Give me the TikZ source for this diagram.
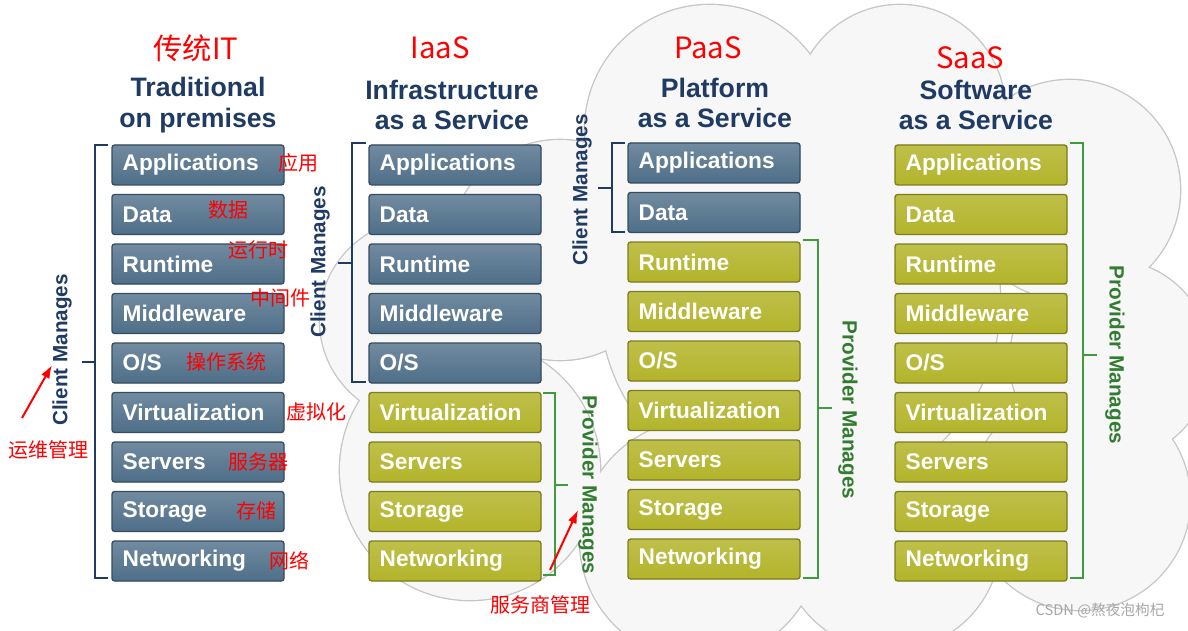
\documentclass[tikz,border=0pt]{standalone}
\usepackage{fontspec}
\usetikzlibrary{arrows.meta}
\setmainfont{Liberation Sans}
\newfontfamily\cjk{Noto Sans CJK SC}
\begin{document}
\begin{tikzpicture}[x=0.75pt,y=-0.75pt,
 box/.style={draw=#1!70!black,line width=1pt,rounded corners=2pt,text width=113pt,align=left,minimum height=30pt,anchor=center,
   text=white,font=\bfseries\fontsize{17}{19}\selectfont,inner xsep=8pt},
 cmbox/.style={box=cmc,fill=cmc,top color=cmc!80!white,bottom color=cmc},
 pmbox/.style={box=pmc,fill=pmc,top color=pmc!85!white,bottom color=pmc},
 ttl/.style={font=\bfseries\fontsize{20}{23}\selectfont,text=navy,align=center},
 rednote/.style={text=red,font=\cjk\fontsize{15}{17}\selectfont},
 redttl/.style={text=red,font=\cjk\fontsize{22}{24}\selectfont},
 cbr/.style={draw=navy,line width=1.6pt},
 pbr/.style={draw=grn,line width=1.2pt},
 clab/.style={text=navy,font=\bfseries\fontsize{15.5}{17}\selectfont,rotate=90},
 plab/.style={text=grn!80!black,font=\bfseries\fontsize{15.5}{17}\selectfont,rotate=-90},
 redarrow/.style={draw=red,line width=1.5pt,-{Latex[length=10pt,width=7pt]}}]
\definecolor{cmc}{HTML}{4E6E88}
\definecolor{pmc}{HTML}{B3B42A}
\definecolor{navy}{HTML}{1F3A63}
\definecolor{grn}{HTML}{3E9B3E}
\useasboundingbox (0,0) rectangle (1188,631);
% cloud
\def\cloud{{(710,130)}/125,{(900,110)}/105,{(1070,190)}/110,{(1110,360)}/100,{(1080,500)}/110,{(890,540)}/110,{(700,540)}/120,{(470,470)}/130,{(420,320)}/100,{(560,250)}/110,{(800,300)}/200}
\foreach \c/\r in \cloud \draw[gray!45,line width=2pt] \c circle (\r);
\foreach \c/\r in \cloud \fill[gray!6] \c circle (\r);
\def\names{Applications,Data,Runtime,Middleware,O/S,Virtualization,Servers,Storage,Networking}
\foreach \t [count=\i] in \names { \node[cmbox] (a\i) at (198,{165+49.5*(\i-1)}) {\t}; }
\foreach \t [count=\i] in \names { \ifnum\i<6 \node[cmbox] (b\i) at (455,{165+49.5*(\i-1)}) {\t}; \else \node[pmbox] (b\i) at (455,{165+49.5*(\i-1)}) {\t}; \fi }
\foreach \t [count=\i] in \names { \ifnum\i<3 \node[cmbox] (c\i) at (714,{163+49.5*(\i-1)}) {\t}; \else \node[pmbox] (c\i) at (714,{163+49.5*(\i-1)}) {\t}; \fi }
\foreach \t [count=\i] in \names { \node[pmbox] (d\i) at (981,{165+49.5*(\i-1)}) {\t}; }
% titles
\node[ttl] (t1) at (198,105) {Traditional\\on premises};
\node[ttl] (t2) at (452,105) {Infrastructure\\as a Service};
\node[ttl] (t3) at (715,103) {Platform\\as a Service};
\node[ttl] (t4) at (976,105) {Software\\as a Service};
\node[redttl] (r1) at (196,48) {传统IT};
\node[redttl] (r2) at (440,48) {IaaS};
\node[redttl] (r3) at (708,48) {PaaS};
\node[redttl] (r4) at (970,58) {SaaS};
% brackets
\draw[cbr] (108,145) -- (95,145) -- (95,578) -- (108,578);
\draw[cbr] (95,362) -- (82,362);
\node[clab] (l1) at (62,350) {Client Manages};
\draw[cbr] (366,143) -- (352,143) -- (352,382) -- (366,382);
\draw[cbr] (352,263) -- (338,263);
\node[clab] (l2) at (320,262) {Client Manages};
\draw[pbr] (543,393) -- (555,393) -- (555,575) -- (543,575);
\draw[pbr] (555,485) -- (568,485);
\node[plab] (l3) at (588,485) {Provider Manages};
\draw[cbr] (625,143) -- (612,143) -- (612,232) -- (625,232);
\draw[cbr] (612,188) -- (598,188);
\node[clab] (l4) at (582,190) {Client Manages};
\draw[pbr] (803,240) -- (818,240) -- (818,578) -- (803,578);
\draw[pbr] (818,408) -- (832,408);
\node[plab] (l5) at (848,410) {Provider Manages};
\draw[pbr] (1070,143) -- (1083,143) -- (1083,578) -- (1070,578);
\draw[pbr] (1083,355) -- (1097,355);
\node[plab] (l6) at (1115,355) {Provider Manages};
% red annotations
\node[rednote] at (298,163) {应用};
\node[rednote] at (228,210) {数据};
\node[rednote] at (258,250) {运行时};
\node[rednote] at (280,298) {中间件};
\node[rednote] at (226,362) {操作系统};
\node[rednote] at (316,412) {虚拟化};
\node[rednote] at (258,462) {服务器};
\node[rednote] at (256,511) {存储};
\node[rednote] at (289,561) {网络};
\node[rednote] (o1) at (48,450) {运维管理};
\node[rednote] (o2) at (540,605) {服务商管理};
\coordinate (s1) at (22,418); \coordinate (e1) at (52,365);
\coordinate (s2) at (550,570); \coordinate (e2) at (578,510);
\draw[redarrow] (s1) -- (e1);
\draw[redarrow] (s2) -- (e2);
\node[text=gray!70,font=\cjk\fontsize{11}{13}\selectfont] at (1100,611) {CSDN @熬夜泡枸杞};
\end{tikzpicture}
\end{document}
